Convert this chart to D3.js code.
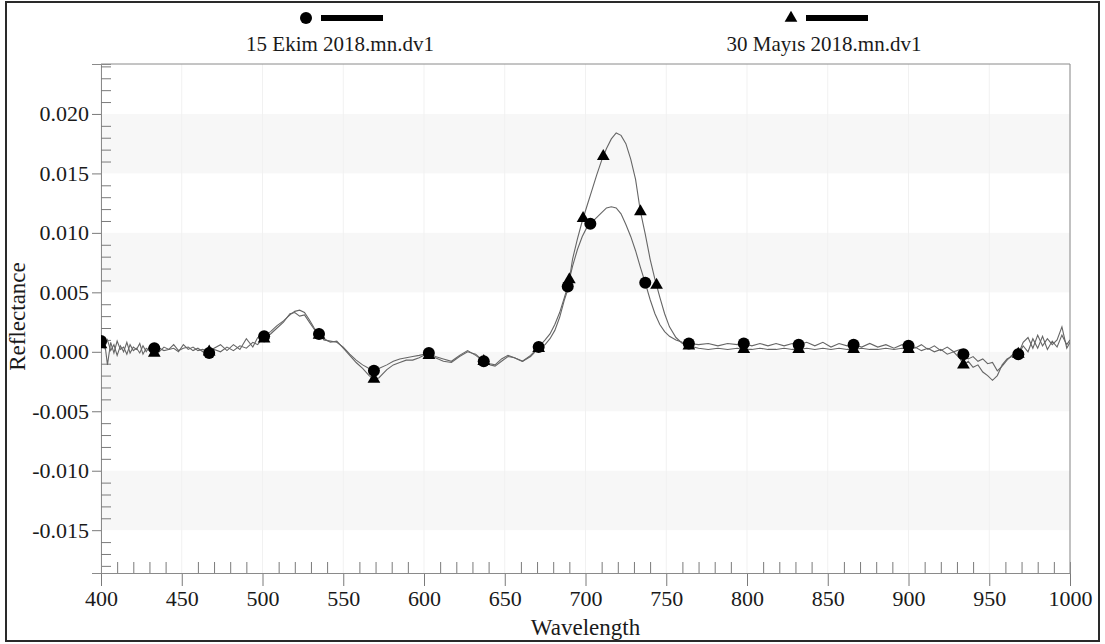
<!DOCTYPE html>
<html>
<head>
<meta charset="utf-8">
<script src="https://cdn.jsdelivr.net/npm/d3@7"></script>
<style>
  body { margin: 0; background: #fff; }
  text { font-family: "Liberation Serif", "Times New Roman", serif; fill: #1a1a1a; }
</style>
</head>
<body>
<div id="chart"></div>
<script>
// series names as shown in the legend
const seriesNames = ['15 Ekim 2018.mn.dv1', '30 Mayıs 2018.mn.dv1'];

// wavelength grid (nm) shared by both spectra
const wavelengths = [
  400, 402, 404, 406, 408, 410, 412, 414, 416, 418, 420, 422, 424, 426, 428, 430,
  433, 436, 439, 442, 445, 448, 451, 454, 457, 460, 463, 467, 470, 474, 478, 482,
  486, 490, 494, 497, 501, 505, 509, 513, 517, 520, 523, 526, 529, 532, 535, 538,
  542, 546, 550, 554, 558, 562, 566, 569, 572, 577, 581, 585, 589, 593, 597, 600,
  603, 607, 612, 617, 622, 627, 632, 637, 641, 644, 648, 652, 656, 661, 666, 671,
  675, 678, 681, 684, 687, 689, 692, 695, 698, 701, 704, 707, 710, 713, 716, 719,
  722, 725, 728, 731, 734, 737, 740, 743, 746, 749, 752, 756, 760, 764, 770, 776,
  782, 788, 794, 798, 803, 808, 813, 818, 823, 828, 832, 837, 842, 847, 852, 857,
  862, 866, 871, 876, 881, 886, 891, 896, 900, 904, 908, 912, 916, 920, 924, 928,
  932, 934, 937, 940, 943, 946, 949, 952, 955, 958, 961, 964, 968, 971, 974, 977,
  980, 983, 986, 989, 992, 995, 998, 1000
];

// 15 Ekim 2018 reflectance
const ekim = [
  0.0009, 0.0003, 0.0010, 0.0001, 0.0006, -0.0003, 0.0005, 0.0000, 0.0008, -0.0001, 0.0004, 0.0002, 0.0007, -0.0002, 0.0003, 0.0001,
  0.0003, 0.0000, 0.0004, 0.0002, 0.0006, 0.0001, 0.0003, 0.0004, 0.0001, 0.0003, 0.0000, -0.0001, 0.0002, 0.0000, 0.0004, 0.0001,
  0.0005, 0.0003, 0.0008, 0.0006, 0.0013, 0.0017, 0.0022, 0.0026, 0.0031, 0.0034, 0.0035, 0.0033, 0.0027, 0.0020, 0.0015, 0.0010,
  0.0009, 0.0008, 0.0004, -0.0002, -0.0007, -0.0011, -0.0014, -0.0016, -0.0014, -0.0011, -0.0008, -0.0006, -0.0005, -0.0004, -0.0003, -0.0002,
  -0.0001, -0.0004, -0.0006, -0.0008, -0.0003, 0.0001, -0.0003, -0.0008, -0.0010, -0.0011, -0.0006, -0.0003, -0.0005, -0.0008, -0.0003, 0.0004,
  0.0010, 0.0015, 0.0023, 0.0033, 0.0046, 0.0055, 0.0072, 0.0086, 0.0097, 0.0105, 0.0109, 0.0113, 0.0117, 0.0121, 0.0122, 0.0121,
  0.0116, 0.0107, 0.0097, 0.0085, 0.0071, 0.0058, 0.0044, 0.0032, 0.0023, 0.0017, 0.0013, 0.0010, 0.0008, 0.0007, 0.0006, 0.0007,
  0.0005, 0.0007, 0.0006, 0.0007, 0.0005, 0.0007, 0.0005, 0.0007, 0.0005, 0.0007, 0.0006, 0.0008, 0.0005, 0.0008, 0.0004, 0.0007,
  0.0005, 0.0006, 0.0004, 0.0007, 0.0004, 0.0006, 0.0003, 0.0006, 0.0005, 0.0003, 0.0006, 0.0002, 0.0005, 0.0001, 0.0004, 0.0000,
  0.0002, -0.0002, -0.0006, -0.0004, -0.0008, -0.0006, -0.0010, -0.0009, -0.0016, -0.0012, -0.0007, -0.0003, -0.0002, 0.0005, 0.0000, 0.0011,
  0.0003, 0.0013, 0.0002, 0.0009, 0.0004, 0.0014, 0.0006, 0.0010
];

// 30 Mayıs 2018 reflectance
const mayis = [
  0.0006, 0.0011, -0.0011, 0.0008, -0.0001, 0.0009, 0.0002, 0.0004, -0.0002, 0.0006, 0.0001, 0.0003, -0.0001, 0.0005, 0.0000, 0.0004,
  -0.0001, 0.0003, 0.0001, 0.0002, 0.0003, 0.0000, 0.0006, 0.0002, 0.0004, 0.0001, 0.0002, 0.0000, 0.0003, 0.0006, 0.0001, 0.0006,
  0.0002, 0.0011, 0.0004, 0.0012, 0.0011, 0.0015, 0.0020, 0.0025, 0.0032, 0.0033, 0.0030, 0.0031, 0.0025, 0.0019, 0.0014, 0.0011,
  0.0008, 0.0009, 0.0003, -0.0003, -0.0009, -0.0014, -0.0020, -0.0023, -0.0022, -0.0015, -0.0011, -0.0009, -0.0007, -0.0007, -0.0005, -0.0003,
  -0.0003, -0.0005, -0.0008, -0.0009, -0.0004, 0.0000, -0.0002, -0.0008, -0.0011, -0.0012, -0.0008, -0.0004, -0.0005, -0.0008, -0.0004, 0.0003,
  0.0006, 0.0011, 0.0018, 0.0029, 0.0044, 0.0052, 0.0078, 0.0095, 0.0110, 0.0123, 0.0136, 0.0149, 0.0161, 0.0171, 0.0179, 0.0184,
  0.0182, 0.0175, 0.0162, 0.0145, 0.0118, 0.0099, 0.0078, 0.0061, 0.0046, 0.0032, 0.0021, 0.0012, 0.0007, 0.0005, 0.0003, 0.0002,
  0.0003, 0.0002, 0.0003, 0.0002, 0.0002, 0.0003, 0.0002, 0.0002, 0.0003, 0.0002, 0.0002, 0.0003, 0.0002, 0.0003, 0.0002, 0.0003,
  0.0002, 0.0002, 0.0003, 0.0002, 0.0002, 0.0003, 0.0002, 0.0003, 0.0002, 0.0004, 0.0001, 0.0003, 0.0000, 0.0002, -0.0002, 0.0000,
  -0.0006, -0.0011, -0.0008, -0.0013, -0.0011, -0.0017, -0.0020, -0.0024, -0.0020, -0.0011, -0.0006, -0.0004, -0.0002, 0.0008, 0.0012, 0.0003,
  0.0014, 0.0005, 0.0011, 0.0006, 0.0010, 0.0021, 0.0003, 0.0008
];

// wavelengths where the software put its symbols
const ekimMarks = [400, 433, 467, 501, 535, 569, 603, 637, 671, 689, 703, 737, 764, 798, 832, 866, 900, 934, 968];
const mayisMarks = [400, 433, 467, 501, 535, 569, 603, 637, 671, 690, 698.5, 711, 734, 744, 764, 798, 832, 866, 900, 934, 968];

const xTicks = d3.range(400, 1001, 50);
const yTicks = [-0.015, -0.010, -0.005, 0.000, 0.005, 0.010, 0.015, 0.020];

const width = 1105, height = 644;
const margin = {top: 64, right: 35, bottom: 71, left: 101};
const plotW = width - margin.left - margin.right;
const plotH = height - margin.top - margin.bottom;

const svg = d3.select('#chart')
              .append('svg')
              .attr('width', width)
              .attr('height', height);

// outer frame
svg.append('rect')
    .attr('x', 6).attr('y', 2)
    .attr('width', 1093).attr('height', 639)
    .attr('fill', 'none')
    .attr('stroke', '#2a2a2a')
    .attr('stroke-width', 2);

const x = d3.scaleLinear().domain([400, 1000]).range([0, plotW]);
const y = d3.scaleLinear().domain([-0.0186, 0.0242]).range([plotH, 0]);

const g = svg.append('g')
             .attr('transform', `translate(${margin.left},${margin.top})`);

g.append('clipPath')
    .attr('id', 'plot-clip')
    .append('rect')
    .attr('width', plotW)
    .attr('height', plotH);

// alternating bands between major y ticks
const bands = d3.pairs(yTicks).filter((_, i) => i % 2 === 0);
g.selectAll('.band')
    .data(bands)
    .enter()
    .append('rect')
    .attr('class', 'band')
    .attr('x', 0)
    .attr('width', plotW)
    .attr('y', d => y(d[1]))
    .attr('height', d => y(d[0]) - y(d[1]))
    .attr('fill', '#f7f7f7');

// faint vertical grid
g.selectAll('.vgrid')
    .data(xTicks)
    .enter()
    .append('line')
    .attr('class', 'vgrid')
    .attr('x1', d => x(d)).attr('x2', d => x(d))
    .attr('y1', 0).attr('y2', plotH)
    .attr('stroke', '#f1f1f1');

// top and right frame of plot
g.append('path')
    .attr('d', `M0,0H${plotW}V${plotH}`)
    .attr('fill', 'none')
    .attr('stroke', '#8a8a8a');

// axes: major ticks outward, minor ticks inward
const yFmt = d => d3.format('.3f')(d).replace('\u2212', '-');
const yAxis = g.append('g')
               .call(d3.axisLeft(y).tickValues(yTicks).tickSize(9).tickFormat(yFmt));
const yMinor = g.append('g')
                .call(d3.axisRight(y).tickValues(d3.range(-18, 25).filter(v => v % 5 !== 0).map(v => v / 1000)).tickSize(10).tickFormat(''));

const xAxis = g.append('g')
               .attr('transform', `translate(0,${plotH})`)
               .call(d3.axisBottom(x).tickValues(xTicks).tickSize(13).tickPadding(4).tickFormat(d3.format('d')));
const xMinor = g.append('g')
                .attr('transform', `translate(0,${plotH})`)
                .call(d3.axisTop(x).tickValues(d3.range(410, 1000, 10).filter(v => v % 50 !== 0)).tickSize(11).tickFormat(''));

[yAxis, yMinor, xAxis, xMinor].forEach(a => {
    a.select('.domain').attr('stroke', '#8a8a8a');
    a.selectAll('.tick line').attr('stroke', '#7a7a7a');
    a.selectAll('text')
        .style('font-family', '"Liberation Serif", serif')
        .style('font-size', '22px')
        .attr('fill', '#1a1a1a');
});
yAxis.selectAll('text').attr('x', -12);

// axis titles
svg.append('text')
    .text('Wavelength')
    .attr('x', margin.left + plotW / 2)
    .attr('y', 635)
    .attr('text-anchor', 'middle')
    .style('font-size', '23px');

svg.append('text')
    .text('Reflectance')
    .attr('transform', `translate(25,${margin.top + plotH / 2 - 2}) rotate(-90)`)
    .attr('text-anchor', 'middle')
    .style('font-size', '23px');

// spectra
const series = [ekim, mayis];
const line = d3.line()
               .x((d, i) => x(wavelengths[i]))
               .y(d => y(d));

const plot = g.append('g').attr('clip-path', 'url(#plot-clip)');

plot.selectAll('.spectrum')
    .data(series)
    .enter()
    .append('path')
    .attr('class', 'spectrum')
    .attr('d', line)
    .attr('fill', 'none')
    .attr('stroke', '#666')
    .attr('stroke-width', 1.1);

// value of a spectrum at any wavelength, linear between grid points
const bisect = d3.bisector(d => d).left;
function valueAt(vals, w){
    let i = bisect(wavelengths, w);
    if(i <= 0) return vals[0];
    if(i >= wavelengths.length) return vals[vals.length - 1];
    const t = (w - wavelengths[i - 1]) / (wavelengths[i] - wavelengths[i - 1]);
    return d3.interpolateNumber(vals[i - 1], vals[i])(t);
}

const triangle = d3.symbol().type(d3.symbolTriangle).size(70);

plot.selectAll('.tri')
    .data(mayisMarks)
    .enter()
    .append('path')
    .attr('class', 'tri')
    .attr('d', triangle)
    .attr('transform', d => `translate(${x(d)},${y(valueAt(mayis, d))})`)
    .attr('fill', '#000');

plot.selectAll('.dot')
    .data(ekimMarks)
    .enter()
    .append('circle')
    .attr('class', 'dot')
    .attr('cx', d => x(d))
    .attr('cy', d => y(valueAt(ekim, d)))
    .attr('r', 6)
    .attr('fill', '#000');

// legend
const legend = [
    {name: seriesNames[0], cx: 306, textX: 340},
    {name: seriesNames[1], cx: 791, textX: 824}
];
legend.forEach((d, i) => {
    const lg = svg.append('g');
    if(i === 0){
        lg.append('circle').attr('cx', d.cx).attr('cy', 18).attr('r', 6).attr('fill', '#000');
    }else{
        lg.append('path').attr('d', triangle).attr('transform', `translate(${d.cx},18)`).attr('fill', '#000');
    }
    lg.append('rect')
        .attr('x', d.cx + 15)
        .attr('y', 15)
        .attr('width', 62)
        .attr('height', 6)
        .attr('fill', '#000');
    lg.append('text')
        .text(d.name)
        .attr('x', d.textX)
        .attr('y', 51)
        .attr('text-anchor', 'middle')
        .style('font-size', '21px');
});
</script>
</body>
</html>
